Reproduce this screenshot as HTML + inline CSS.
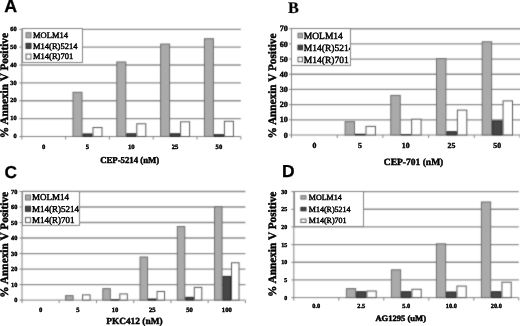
<!DOCTYPE html>
<html><head><meta charset="utf-8"><style>
html,body{margin:0;padding:0;background:#fff;}
body{width:520px;height:326px;overflow:hidden;font-family:"Liberation Serif",serif;}
svg{display:block;}
text{text-rendering:geometricPrecision;}
</style></head><body>
<svg width="520" height="326" viewBox="0 0 520 326" style="will-change:transform">
<defs><filter id="soft" x="0" y="0" width="520" height="326" filterUnits="userSpaceOnUse" color-interpolation-filters="sRGB"><feConvolveMatrix order="3" kernelMatrix="1 2 1 2 16 2 1 2 1" divisor="28" edgeMode="duplicate"/></filter></defs>
<g filter="url(#soft)">
<rect width="520" height="326" fill="#fff"/>
<line x1="21.8" y1="118.63" x2="240.8" y2="118.63" stroke="#8e8e8e" stroke-width="1.35"/>
<line x1="21.8" y1="100.77" x2="240.8" y2="100.77" stroke="#8e8e8e" stroke-width="1.35"/>
<line x1="21.8" y1="82.9" x2="240.8" y2="82.9" stroke="#8e8e8e" stroke-width="1.35"/>
<line x1="21.8" y1="65.03" x2="240.8" y2="65.03" stroke="#8e8e8e" stroke-width="1.35"/>
<line x1="21.8" y1="47.17" x2="240.8" y2="47.17" stroke="#8e8e8e" stroke-width="1.35"/>
<line x1="21.8" y1="29.3" x2="240.8" y2="29.3" stroke="#8e8e8e" stroke-width="1.35"/>
<line x1="21.8" y1="28.8" x2="21.8" y2="137" stroke="#858585" stroke-width="1"/>
<line x1="21.3" y1="136.5" x2="240.8" y2="136.5" stroke="#858585" stroke-width="1"/>
<rect x="73" y="92.33" width="9" height="44.17" fill="#aaaaaa" stroke="#6c6c6c" stroke-width="1"/>
<rect x="83" y="133.96" width="9" height="2.54" fill="#464646" stroke="#262626" stroke-width="1"/>
<rect x="93" y="127.53" width="9" height="8.97" fill="#ffffff" stroke="#5a5a5a" stroke-width="1"/>
<rect x="116.8" y="61.96" width="9" height="74.54" fill="#aaaaaa" stroke="#6c6c6c" stroke-width="1"/>
<rect x="126.8" y="133.78" width="9" height="2.72" fill="#464646" stroke="#262626" stroke-width="1"/>
<rect x="136.8" y="123.78" width="9" height="12.72" fill="#ffffff" stroke="#5a5a5a" stroke-width="1"/>
<rect x="160.6" y="44.09" width="9" height="92.41" fill="#aaaaaa" stroke="#6c6c6c" stroke-width="1"/>
<rect x="170.6" y="133.78" width="9" height="2.72" fill="#464646" stroke="#262626" stroke-width="1"/>
<rect x="180.6" y="121.81" width="9" height="14.69" fill="#ffffff" stroke="#5a5a5a" stroke-width="1"/>
<rect x="204.4" y="38.73" width="9" height="97.77" fill="#aaaaaa" stroke="#6c6c6c" stroke-width="1"/>
<rect x="214.4" y="134.68" width="9" height="1.82" fill="#464646" stroke="#262626" stroke-width="1"/>
<rect x="224.4" y="121.28" width="9" height="15.22" fill="#ffffff" stroke="#5a5a5a" stroke-width="1"/>
<line x1="19.3" y1="136.5" x2="21.8" y2="136.5" stroke="#858585" stroke-width="1"/>
<line x1="19.3" y1="118.63" x2="21.8" y2="118.63" stroke="#858585" stroke-width="1"/>
<line x1="19.3" y1="100.77" x2="21.8" y2="100.77" stroke="#858585" stroke-width="1"/>
<line x1="19.3" y1="82.9" x2="21.8" y2="82.9" stroke="#858585" stroke-width="1"/>
<line x1="19.3" y1="65.03" x2="21.8" y2="65.03" stroke="#858585" stroke-width="1"/>
<line x1="19.3" y1="47.17" x2="21.8" y2="47.17" stroke="#858585" stroke-width="1"/>
<line x1="19.3" y1="29.3" x2="21.8" y2="29.3" stroke="#858585" stroke-width="1"/>
<line x1="21.8" y1="136.5" x2="21.8" y2="139.5" stroke="#858585" stroke-width="1"/>
<line x1="65.6" y1="136.5" x2="65.6" y2="139.5" stroke="#858585" stroke-width="1"/>
<line x1="109.4" y1="136.5" x2="109.4" y2="139.5" stroke="#858585" stroke-width="1"/>
<line x1="153.2" y1="136.5" x2="153.2" y2="139.5" stroke="#858585" stroke-width="1"/>
<line x1="197" y1="136.5" x2="197" y2="139.5" stroke="#858585" stroke-width="1"/>
<line x1="240.8" y1="136.5" x2="240.8" y2="139.5" stroke="#858585" stroke-width="1"/>
<rect x="22.5" y="28.5" width="60" height="34" fill="#fff" stroke="#858585" stroke-width="1"/>
<rect x="26" y="32.7" width="5" height="5" fill="#aaaaaa" stroke="#727272" stroke-width="1"/>
<rect x="26" y="43.4" width="5" height="5" fill="#464646" stroke="#262626" stroke-width="1"/>
<rect x="26" y="54.1" width="5" height="5" fill="#ffffff" stroke="#5a5a5a" stroke-width="1"/>
<line x1="291.5" y1="119.81" x2="520" y2="119.81" stroke="#8e8e8e" stroke-width="1.35"/>
<line x1="291.5" y1="104.63" x2="520" y2="104.63" stroke="#8e8e8e" stroke-width="1.35"/>
<line x1="291.5" y1="89.44" x2="520" y2="89.44" stroke="#8e8e8e" stroke-width="1.35"/>
<line x1="291.5" y1="74.26" x2="520" y2="74.26" stroke="#8e8e8e" stroke-width="1.35"/>
<line x1="291.5" y1="59.07" x2="520" y2="59.07" stroke="#8e8e8e" stroke-width="1.35"/>
<line x1="291.5" y1="43.89" x2="520" y2="43.89" stroke="#8e8e8e" stroke-width="1.35"/>
<line x1="291.5" y1="28.7" x2="520" y2="28.7" stroke="#8e8e8e" stroke-width="1.35"/>
<line x1="291.5" y1="28.2" x2="291.5" y2="135.5" stroke="#858585" stroke-width="1"/>
<line x1="291" y1="135" x2="520" y2="135" stroke="#858585" stroke-width="1"/>
<rect x="345.1" y="121.68" width="9.43" height="13.32" fill="#aaaaaa" stroke="#6c6c6c" stroke-width="1"/>
<rect x="355.53" y="134.29" width="9.43" height="0.71" fill="#464646" stroke="#262626" stroke-width="1"/>
<rect x="365.97" y="126.39" width="9.43" height="8.61" fill="#ffffff" stroke="#5a5a5a" stroke-width="1"/>
<rect x="390.8" y="95.41" width="9.43" height="39.59" fill="#aaaaaa" stroke="#6c6c6c" stroke-width="1"/>
<rect x="401.23" y="134.74" width="9.43" height="0.26" fill="#464646" stroke="#262626" stroke-width="1"/>
<rect x="411.67" y="119.18" width="9.43" height="15.82" fill="#ffffff" stroke="#5a5a5a" stroke-width="1"/>
<rect x="436.5" y="58.66" width="9.43" height="76.34" fill="#aaaaaa" stroke="#6c6c6c" stroke-width="1"/>
<rect x="446.93" y="131.7" width="9.43" height="3.3" fill="#464646" stroke="#262626" stroke-width="1"/>
<rect x="457.37" y="110.14" width="9.43" height="24.86" fill="#ffffff" stroke="#5a5a5a" stroke-width="1"/>
<rect x="482.2" y="41.8" width="9.43" height="93.2" fill="#aaaaaa" stroke="#6c6c6c" stroke-width="1"/>
<rect x="492.63" y="120.92" width="9.43" height="14.08" fill="#464646" stroke="#262626" stroke-width="1"/>
<rect x="503.07" y="100.88" width="9.43" height="34.12" fill="#ffffff" stroke="#5a5a5a" stroke-width="1"/>
<line x1="289" y1="135" x2="291.5" y2="135" stroke="#858585" stroke-width="1"/>
<line x1="289" y1="119.81" x2="291.5" y2="119.81" stroke="#858585" stroke-width="1"/>
<line x1="289" y1="104.63" x2="291.5" y2="104.63" stroke="#858585" stroke-width="1"/>
<line x1="289" y1="89.44" x2="291.5" y2="89.44" stroke="#858585" stroke-width="1"/>
<line x1="289" y1="74.26" x2="291.5" y2="74.26" stroke="#858585" stroke-width="1"/>
<line x1="289" y1="59.07" x2="291.5" y2="59.07" stroke="#858585" stroke-width="1"/>
<line x1="289" y1="43.89" x2="291.5" y2="43.89" stroke="#858585" stroke-width="1"/>
<line x1="289" y1="28.7" x2="291.5" y2="28.7" stroke="#858585" stroke-width="1"/>
<line x1="291.5" y1="135" x2="291.5" y2="138" stroke="#858585" stroke-width="1"/>
<line x1="337.2" y1="135" x2="337.2" y2="138" stroke="#858585" stroke-width="1"/>
<line x1="382.9" y1="135" x2="382.9" y2="138" stroke="#858585" stroke-width="1"/>
<line x1="428.6" y1="135" x2="428.6" y2="138" stroke="#858585" stroke-width="1"/>
<line x1="474.3" y1="135" x2="474.3" y2="138" stroke="#858585" stroke-width="1"/>
<line x1="520" y1="135" x2="520" y2="138" stroke="#858585" stroke-width="1"/>
<rect x="291.5" y="28.5" width="59" height="37" fill="#fff" stroke="#858585" stroke-width="1"/>
<rect x="298" y="33.25" width="4.5" height="4.5" fill="#aaaaaa" stroke="#727272" stroke-width="1"/>
<rect x="298" y="45.25" width="4.5" height="4.5" fill="#464646" stroke="#262626" stroke-width="1"/>
<rect x="298" y="57.25" width="4.5" height="4.5" fill="#ffffff" stroke="#5a5a5a" stroke-width="1"/>
<line x1="22" y1="284.59" x2="245.4" y2="284.59" stroke="#8e8e8e" stroke-width="1.35"/>
<line x1="22" y1="269.07" x2="245.4" y2="269.07" stroke="#8e8e8e" stroke-width="1.35"/>
<line x1="22" y1="253.56" x2="245.4" y2="253.56" stroke="#8e8e8e" stroke-width="1.35"/>
<line x1="22" y1="238.04" x2="245.4" y2="238.04" stroke="#8e8e8e" stroke-width="1.35"/>
<line x1="22" y1="222.53" x2="245.4" y2="222.53" stroke="#8e8e8e" stroke-width="1.35"/>
<line x1="22" y1="207.01" x2="245.4" y2="207.01" stroke="#8e8e8e" stroke-width="1.35"/>
<line x1="22" y1="191.5" x2="245.4" y2="191.5" stroke="#8e8e8e" stroke-width="1.35"/>
<line x1="22" y1="191" x2="22" y2="300.6" stroke="#858585" stroke-width="1"/>
<line x1="21.5" y1="300.1" x2="245.4" y2="300.1" stroke="#858585" stroke-width="1"/>
<rect x="65.6" y="295.64" width="7.5" height="4.46" fill="#aaaaaa" stroke="#6c6c6c" stroke-width="1"/>
<rect x="82.6" y="294.86" width="7.5" height="5.24" fill="#ffffff" stroke="#5a5a5a" stroke-width="1"/>
<rect x="102.83" y="288.65" width="7.5" height="11.45" fill="#aaaaaa" stroke="#6c6c6c" stroke-width="1"/>
<rect x="111.33" y="299.82" width="7.5" height="0.28" fill="#464646" stroke="#262626" stroke-width="1"/>
<rect x="119.83" y="293.93" width="7.5" height="6.17" fill="#ffffff" stroke="#5a5a5a" stroke-width="1"/>
<rect x="140.07" y="257" width="7.5" height="43.1" fill="#aaaaaa" stroke="#6c6c6c" stroke-width="1"/>
<rect x="148.57" y="299.05" width="7.5" height="1.05" fill="#464646" stroke="#262626" stroke-width="1"/>
<rect x="157.07" y="291.45" width="7.5" height="8.65" fill="#ffffff" stroke="#5a5a5a" stroke-width="1"/>
<rect x="177.3" y="226.6" width="7.5" height="73.5" fill="#aaaaaa" stroke="#6c6c6c" stroke-width="1"/>
<rect x="185.8" y="297.34" width="7.5" height="2.76" fill="#464646" stroke="#262626" stroke-width="1"/>
<rect x="194.3" y="287.41" width="7.5" height="12.69" fill="#ffffff" stroke="#5a5a5a" stroke-width="1"/>
<rect x="214.53" y="206.74" width="7.5" height="93.36" fill="#aaaaaa" stroke="#6c6c6c" stroke-width="1"/>
<rect x="223.03" y="276.4" width="7.5" height="23.7" fill="#464646" stroke="#262626" stroke-width="1"/>
<rect x="231.53" y="262.75" width="7.5" height="37.35" fill="#ffffff" stroke="#5a5a5a" stroke-width="1"/>
<line x1="19.5" y1="300.1" x2="22" y2="300.1" stroke="#858585" stroke-width="1"/>
<line x1="19.5" y1="284.59" x2="22" y2="284.59" stroke="#858585" stroke-width="1"/>
<line x1="19.5" y1="269.07" x2="22" y2="269.07" stroke="#858585" stroke-width="1"/>
<line x1="19.5" y1="253.56" x2="22" y2="253.56" stroke="#858585" stroke-width="1"/>
<line x1="19.5" y1="238.04" x2="22" y2="238.04" stroke="#858585" stroke-width="1"/>
<line x1="19.5" y1="222.53" x2="22" y2="222.53" stroke="#858585" stroke-width="1"/>
<line x1="19.5" y1="207.01" x2="22" y2="207.01" stroke="#858585" stroke-width="1"/>
<line x1="19.5" y1="191.5" x2="22" y2="191.5" stroke="#858585" stroke-width="1"/>
<line x1="22" y1="300.1" x2="22" y2="303.1" stroke="#858585" stroke-width="1"/>
<line x1="59.23" y1="300.1" x2="59.23" y2="303.1" stroke="#858585" stroke-width="1"/>
<line x1="96.47" y1="300.1" x2="96.47" y2="303.1" stroke="#858585" stroke-width="1"/>
<line x1="133.7" y1="300.1" x2="133.7" y2="303.1" stroke="#858585" stroke-width="1"/>
<line x1="170.93" y1="300.1" x2="170.93" y2="303.1" stroke="#858585" stroke-width="1"/>
<line x1="208.17" y1="300.1" x2="208.17" y2="303.1" stroke="#858585" stroke-width="1"/>
<line x1="245.4" y1="300.1" x2="245.4" y2="303.1" stroke="#858585" stroke-width="1"/>
<rect x="22.5" y="191.5" width="57" height="34" fill="#fff" stroke="#858585" stroke-width="1"/>
<rect x="25.5" y="195" width="5" height="5" fill="#aaaaaa" stroke="#727272" stroke-width="1"/>
<rect x="25.5" y="206.3" width="5" height="5" fill="#464646" stroke="#262626" stroke-width="1"/>
<rect x="25.5" y="217.6" width="5" height="5" fill="#ffffff" stroke="#5a5a5a" stroke-width="1"/>
<line x1="293.8" y1="279.93" x2="518.8" y2="279.93" stroke="#8e8e8e" stroke-width="1.35"/>
<line x1="293.8" y1="262.27" x2="518.8" y2="262.27" stroke="#8e8e8e" stroke-width="1.35"/>
<line x1="293.8" y1="244.6" x2="518.8" y2="244.6" stroke="#8e8e8e" stroke-width="1.35"/>
<line x1="293.8" y1="226.93" x2="518.8" y2="226.93" stroke="#8e8e8e" stroke-width="1.35"/>
<line x1="293.8" y1="209.27" x2="518.8" y2="209.27" stroke="#8e8e8e" stroke-width="1.35"/>
<line x1="293.8" y1="191.6" x2="518.8" y2="191.6" stroke="#8e8e8e" stroke-width="1.35"/>
<line x1="293.8" y1="191.1" x2="293.8" y2="298.1" stroke="#858585" stroke-width="1"/>
<line x1="293.3" y1="297.6" x2="518.8" y2="297.6" stroke="#858585" stroke-width="1"/>
<rect x="346.39" y="288.63" width="9.27" height="8.97" fill="#aaaaaa" stroke="#6c6c6c" stroke-width="1"/>
<rect x="356.66" y="291.74" width="9.27" height="5.86" fill="#464646" stroke="#262626" stroke-width="1"/>
<rect x="366.94" y="291.03" width="9.27" height="6.57" fill="#ffffff" stroke="#5a5a5a" stroke-width="1"/>
<rect x="391.39" y="269.83" width="9.27" height="27.77" fill="#aaaaaa" stroke="#6c6c6c" stroke-width="1"/>
<rect x="401.66" y="291.74" width="9.27" height="5.86" fill="#464646" stroke="#262626" stroke-width="1"/>
<rect x="411.94" y="289.27" width="9.27" height="8.33" fill="#ffffff" stroke="#5a5a5a" stroke-width="1"/>
<rect x="436.39" y="243.83" width="9.27" height="53.77" fill="#aaaaaa" stroke="#6c6c6c" stroke-width="1"/>
<rect x="446.66" y="292.02" width="9.27" height="5.58" fill="#464646" stroke="#262626" stroke-width="1"/>
<rect x="456.94" y="286.09" width="9.27" height="11.51" fill="#ffffff" stroke="#5a5a5a" stroke-width="1"/>
<rect x="481.39" y="201.99" width="9.27" height="95.61" fill="#aaaaaa" stroke="#6c6c6c" stroke-width="1"/>
<rect x="491.66" y="291.74" width="9.27" height="5.86" fill="#464646" stroke="#262626" stroke-width="1"/>
<rect x="501.94" y="282.2" width="9.27" height="15.4" fill="#ffffff" stroke="#5a5a5a" stroke-width="1"/>
<line x1="291.3" y1="297.6" x2="293.8" y2="297.6" stroke="#858585" stroke-width="1"/>
<line x1="291.3" y1="279.93" x2="293.8" y2="279.93" stroke="#858585" stroke-width="1"/>
<line x1="291.3" y1="262.27" x2="293.8" y2="262.27" stroke="#858585" stroke-width="1"/>
<line x1="291.3" y1="244.6" x2="293.8" y2="244.6" stroke="#858585" stroke-width="1"/>
<line x1="291.3" y1="226.93" x2="293.8" y2="226.93" stroke="#858585" stroke-width="1"/>
<line x1="291.3" y1="209.27" x2="293.8" y2="209.27" stroke="#858585" stroke-width="1"/>
<line x1="291.3" y1="191.6" x2="293.8" y2="191.6" stroke="#858585" stroke-width="1"/>
<line x1="293.8" y1="297.6" x2="293.8" y2="300.6" stroke="#858585" stroke-width="1"/>
<line x1="338.8" y1="297.6" x2="338.8" y2="300.6" stroke="#858585" stroke-width="1"/>
<line x1="383.8" y1="297.6" x2="383.8" y2="300.6" stroke="#858585" stroke-width="1"/>
<line x1="428.8" y1="297.6" x2="428.8" y2="300.6" stroke="#858585" stroke-width="1"/>
<line x1="473.8" y1="297.6" x2="473.8" y2="300.6" stroke="#858585" stroke-width="1"/>
<line x1="518.8" y1="297.6" x2="518.8" y2="300.6" stroke="#858585" stroke-width="1"/>
<rect x="294.5" y="191.5" width="69" height="35" fill="#fff" stroke="#858585" stroke-width="1"/>
<rect x="300.9" y="195.7" width="5.1" height="3.4" fill="#aaaaaa" stroke="#727272" stroke-width="1"/>
<rect x="300.9" y="207.4" width="5.1" height="3.4" fill="#464646" stroke="#262626" stroke-width="1"/>
<rect x="300.9" y="219.1" width="5.1" height="3.4" fill="#ffffff" stroke="#5a5a5a" stroke-width="1"/>
</g>
<text x="16.6" y="138.18" text-anchor="end" font-family="'Liberation Serif', serif" font-weight="bold" font-size="6.3" stroke="#000" stroke-width="0.4">0</text>
<text x="16.6" y="120.31" text-anchor="end" font-family="'Liberation Serif', serif" font-weight="bold" font-size="6.3" stroke="#000" stroke-width="0.4">10</text>
<text x="16.6" y="102.45" text-anchor="end" font-family="'Liberation Serif', serif" font-weight="bold" font-size="6.3" stroke="#000" stroke-width="0.4">20</text>
<text x="16.6" y="84.58" text-anchor="end" font-family="'Liberation Serif', serif" font-weight="bold" font-size="6.3" stroke="#000" stroke-width="0.4">30</text>
<text x="16.6" y="66.71" text-anchor="end" font-family="'Liberation Serif', serif" font-weight="bold" font-size="6.3" stroke="#000" stroke-width="0.4">40</text>
<text x="16.6" y="48.85" text-anchor="end" font-family="'Liberation Serif', serif" font-weight="bold" font-size="6.3" stroke="#000" stroke-width="0.4">50</text>
<text x="16.6" y="30.98" text-anchor="end" font-family="'Liberation Serif', serif" font-weight="bold" font-size="6.3" stroke="#000" stroke-width="0.4">60</text>
<text x="43.7" y="148.5" text-anchor="middle" font-family="'Liberation Serif', serif" font-weight="bold" font-size="6.6" stroke="#000" stroke-width="0.4">0</text>
<text x="87.5" y="148.5" text-anchor="middle" font-family="'Liberation Serif', serif" font-weight="bold" font-size="6.6" stroke="#000" stroke-width="0.4">5</text>
<text x="131.3" y="148.5" text-anchor="middle" font-family="'Liberation Serif', serif" font-weight="bold" font-size="6.6" stroke="#000" stroke-width="0.4">10</text>
<text x="175.1" y="148.5" text-anchor="middle" font-family="'Liberation Serif', serif" font-weight="bold" font-size="6.6" stroke="#000" stroke-width="0.4">25</text>
<text x="218.9" y="148.5" text-anchor="middle" font-family="'Liberation Serif', serif" font-weight="bold" font-size="6.6" stroke="#000" stroke-width="0.4">50</text>
<text x="100.2" y="163.1" font-family="'Liberation Serif', serif" font-weight="bold" font-size="9" stroke="#000" stroke-width="0.45" textLength="59" lengthAdjust="spacingAndGlyphs">CEP-5214 (nM)</text>
<text transform="translate(8,138.2) rotate(-90)" x="0" y="0" font-family="'Liberation Serif', serif" font-weight="bold" font-size="11.4" stroke="#000" stroke-width="0.45" textLength="105.2" lengthAdjust="spacingAndGlyphs">% Annexin V Positive</text>
<svg x="23" y="29" width="59" height="33" overflow="hidden">
<text x="10" y="9.01" font-family="'Liberation Serif', serif" font-size="8.5" stroke="#000" stroke-width="0.45">MOLM14</text>
<text x="10" y="19.71" font-family="'Liberation Serif', serif" font-size="8.5" stroke="#000" stroke-width="0.45">M14(R)5214</text>
<text x="10" y="30.41" font-family="'Liberation Serif', serif" font-size="8.5" stroke="#000" stroke-width="0.45">M14(R)701</text>
</svg>
<text x="4.2" y="12.3" font-family="'Liberation Sans', sans-serif" font-weight="bold" font-size="17.8" stroke="#000" stroke-width="0.3">A</text>
<text x="287.8" y="137.67" text-anchor="end" font-family="'Liberation Serif', serif" font-weight="bold" font-size="8.1" stroke="#000" stroke-width="0.4">0</text>
<text x="287.8" y="122.49" text-anchor="end" font-family="'Liberation Serif', serif" font-weight="bold" font-size="8.1" stroke="#000" stroke-width="0.4">10</text>
<text x="287.8" y="107.3" text-anchor="end" font-family="'Liberation Serif', serif" font-weight="bold" font-size="8.1" stroke="#000" stroke-width="0.4">20</text>
<text x="287.8" y="92.12" text-anchor="end" font-family="'Liberation Serif', serif" font-weight="bold" font-size="8.1" stroke="#000" stroke-width="0.4">30</text>
<text x="287.8" y="76.93" text-anchor="end" font-family="'Liberation Serif', serif" font-weight="bold" font-size="8.1" stroke="#000" stroke-width="0.4">40</text>
<text x="287.8" y="61.74" text-anchor="end" font-family="'Liberation Serif', serif" font-weight="bold" font-size="8.1" stroke="#000" stroke-width="0.4">50</text>
<text x="287.8" y="46.56" text-anchor="end" font-family="'Liberation Serif', serif" font-weight="bold" font-size="8.1" stroke="#000" stroke-width="0.4">60</text>
<text x="287.8" y="31.37" text-anchor="end" font-family="'Liberation Serif', serif" font-weight="bold" font-size="8.1" stroke="#000" stroke-width="0.4">70</text>
<text x="314.35" y="148.4" text-anchor="middle" font-family="'Liberation Serif', serif" font-weight="bold" font-size="7.8" stroke="#000" stroke-width="0.4">0</text>
<text x="360.05" y="148.4" text-anchor="middle" font-family="'Liberation Serif', serif" font-weight="bold" font-size="7.8" stroke="#000" stroke-width="0.4">5</text>
<text x="405.75" y="148.4" text-anchor="middle" font-family="'Liberation Serif', serif" font-weight="bold" font-size="7.8" stroke="#000" stroke-width="0.4">10</text>
<text x="451.45" y="148.4" text-anchor="middle" font-family="'Liberation Serif', serif" font-weight="bold" font-size="7.8" stroke="#000" stroke-width="0.4">25</text>
<text x="497.15" y="148.4" text-anchor="middle" font-family="'Liberation Serif', serif" font-weight="bold" font-size="7.8" stroke="#000" stroke-width="0.4">50</text>
<text x="383.8" y="164.8" font-family="'Liberation Serif', serif" font-weight="bold" font-size="9.5" stroke="#000" stroke-width="0.45" textLength="59.5" lengthAdjust="spacingAndGlyphs">CEP-701 (nM)</text>
<text transform="translate(276.3,138.5) rotate(-90)" x="0" y="0" font-family="'Liberation Serif', serif" font-weight="bold" font-size="11.4" stroke="#000" stroke-width="0.45" textLength="105" lengthAdjust="spacingAndGlyphs">% Annexin V Positive</text>
<svg x="292" y="29" width="58" height="36" overflow="hidden">
<text x="11.8" y="9.63" font-family="'Liberation Serif', serif" font-size="9.5" stroke="#000" stroke-width="0.45">MOLM14</text>
<text x="11.8" y="21.64" font-family="'Liberation Serif', serif" font-size="9.5" stroke="#000" stroke-width="0.45">M14(R)5214</text>
<text x="11.8" y="33.63" font-family="'Liberation Serif', serif" font-size="9.5" stroke="#000" stroke-width="0.45">M14(R)701</text>
</svg>
<text x="288" y="12.8" font-family="'Liberation Serif', serif" font-weight="bold" font-size="16.2" stroke="#000" stroke-width="0.2">B</text>
<text x="17.3" y="302.18" text-anchor="end" font-family="'Liberation Serif', serif" font-weight="bold" font-size="6.3" stroke="#000" stroke-width="0.4">0</text>
<text x="17.3" y="286.66" text-anchor="end" font-family="'Liberation Serif', serif" font-weight="bold" font-size="6.3" stroke="#000" stroke-width="0.4">10</text>
<text x="17.3" y="271.15" text-anchor="end" font-family="'Liberation Serif', serif" font-weight="bold" font-size="6.3" stroke="#000" stroke-width="0.4">20</text>
<text x="17.3" y="255.64" text-anchor="end" font-family="'Liberation Serif', serif" font-weight="bold" font-size="6.3" stroke="#000" stroke-width="0.4">30</text>
<text x="17.3" y="240.12" text-anchor="end" font-family="'Liberation Serif', serif" font-weight="bold" font-size="6.3" stroke="#000" stroke-width="0.4">40</text>
<text x="17.3" y="224.61" text-anchor="end" font-family="'Liberation Serif', serif" font-weight="bold" font-size="6.3" stroke="#000" stroke-width="0.4">50</text>
<text x="17.3" y="209.09" text-anchor="end" font-family="'Liberation Serif', serif" font-weight="bold" font-size="6.3" stroke="#000" stroke-width="0.4">60</text>
<text x="17.3" y="193.58" text-anchor="end" font-family="'Liberation Serif', serif" font-weight="bold" font-size="6.3" stroke="#000" stroke-width="0.4">70</text>
<text x="40.62" y="311.9" text-anchor="middle" font-family="'Liberation Serif', serif" font-weight="bold" font-size="6.6" stroke="#000" stroke-width="0.4">0</text>
<text x="77.85" y="311.9" text-anchor="middle" font-family="'Liberation Serif', serif" font-weight="bold" font-size="6.6" stroke="#000" stroke-width="0.4">5</text>
<text x="115.08" y="311.9" text-anchor="middle" font-family="'Liberation Serif', serif" font-weight="bold" font-size="6.6" stroke="#000" stroke-width="0.4">10</text>
<text x="152.32" y="311.9" text-anchor="middle" font-family="'Liberation Serif', serif" font-weight="bold" font-size="6.6" stroke="#000" stroke-width="0.4">25</text>
<text x="189.55" y="311.9" text-anchor="middle" font-family="'Liberation Serif', serif" font-weight="bold" font-size="6.6" stroke="#000" stroke-width="0.4">50</text>
<text x="226.78" y="311.9" text-anchor="middle" font-family="'Liberation Serif', serif" font-weight="bold" font-size="6.6" stroke="#000" stroke-width="0.4">100</text>
<text x="106.2" y="323.7" font-family="'Liberation Serif', serif" font-weight="bold" font-size="9.3" stroke="#000" stroke-width="0.45" textLength="56.4" lengthAdjust="spacingAndGlyphs">PKC412 (nM)</text>
<text transform="translate(8,297.7) rotate(-90)" x="0" y="0" font-family="'Liberation Serif', serif" font-weight="bold" font-size="11.4" stroke="#000" stroke-width="0.45" textLength="105.8" lengthAdjust="spacingAndGlyphs">% Annexin V Positive</text>
<svg x="23" y="192" width="56" height="33" overflow="hidden">
<text x="8.9" y="8.47" font-family="'Liberation Serif', serif" font-size="9" stroke="#000" stroke-width="0.45">MOLM14</text>
<text x="8.9" y="19.77" font-family="'Liberation Serif', serif" font-size="9" stroke="#000" stroke-width="0.45">M14(R)5214</text>
<text x="8.9" y="31.07" font-family="'Liberation Serif', serif" font-size="9" stroke="#000" stroke-width="0.45">M14(R)701</text>
</svg>
<text x="4.5" y="177.5" font-family="'Liberation Sans', sans-serif" font-weight="bold" font-size="17.3" stroke="#000" stroke-width="0.3">C</text>
<text x="287.2" y="299.58" text-anchor="end" font-family="'Liberation Serif', serif" font-weight="bold" font-size="6" stroke="#000" stroke-width="0.4">0</text>
<text x="287.2" y="281.91" text-anchor="end" font-family="'Liberation Serif', serif" font-weight="bold" font-size="6" stroke="#000" stroke-width="0.4">5</text>
<text x="287.2" y="264.25" text-anchor="end" font-family="'Liberation Serif', serif" font-weight="bold" font-size="6" stroke="#000" stroke-width="0.4">10</text>
<text x="287.2" y="246.58" text-anchor="end" font-family="'Liberation Serif', serif" font-weight="bold" font-size="6" stroke="#000" stroke-width="0.4">15</text>
<text x="287.2" y="228.91" text-anchor="end" font-family="'Liberation Serif', serif" font-weight="bold" font-size="6" stroke="#000" stroke-width="0.4">20</text>
<text x="287.2" y="211.25" text-anchor="end" font-family="'Liberation Serif', serif" font-weight="bold" font-size="6" stroke="#000" stroke-width="0.4">25</text>
<text x="287.2" y="193.58" text-anchor="end" font-family="'Liberation Serif', serif" font-weight="bold" font-size="6" stroke="#000" stroke-width="0.4">30</text>
<text x="316.3" y="308" text-anchor="middle" font-family="'Liberation Serif', serif" font-weight="bold" font-size="6.3" stroke="#000" stroke-width="0.4">0.0</text>
<text x="361.3" y="308" text-anchor="middle" font-family="'Liberation Serif', serif" font-weight="bold" font-size="6.3" stroke="#000" stroke-width="0.4">2.5</text>
<text x="406.3" y="308" text-anchor="middle" font-family="'Liberation Serif', serif" font-weight="bold" font-size="6.3" stroke="#000" stroke-width="0.4">5.0</text>
<text x="451.3" y="308" text-anchor="middle" font-family="'Liberation Serif', serif" font-weight="bold" font-size="6.3" stroke="#000" stroke-width="0.4">10.0</text>
<text x="496.3" y="308" text-anchor="middle" font-family="'Liberation Serif', serif" font-weight="bold" font-size="6.3" stroke="#000" stroke-width="0.4">20.0</text>
<text x="375.4" y="320.7" font-family="'Liberation Serif', serif" font-weight="bold" font-size="8.3" stroke="#000" stroke-width="0.45" textLength="50.6" lengthAdjust="spacingAndGlyphs">AG1295 (uM)</text>
<text transform="translate(276.3,297) rotate(-90)" x="0" y="0" font-family="'Liberation Serif', serif" font-weight="bold" font-size="11.3" stroke="#000" stroke-width="0.45" textLength="105.3" lengthAdjust="spacingAndGlyphs">% Annexin V Positive</text>
<svg x="295" y="192" width="68" height="34" overflow="hidden">
<text x="13.8" y="8.04" font-family="'Liberation Serif', serif" font-size="8" stroke="#000" stroke-width="0.45">MOLM14</text>
<text x="13.8" y="19.74" font-family="'Liberation Serif', serif" font-size="8" stroke="#000" stroke-width="0.45">M14(R)5214</text>
<text x="13.8" y="31.44" font-family="'Liberation Serif', serif" font-size="8" stroke="#000" stroke-width="0.45">M14(R)701</text>
</svg>
<text x="282.1" y="176.9" font-family="'Liberation Sans', sans-serif" font-weight="bold" font-size="17.4" stroke="#000" stroke-width="0.3">D</text>
</svg>
</body></html>
